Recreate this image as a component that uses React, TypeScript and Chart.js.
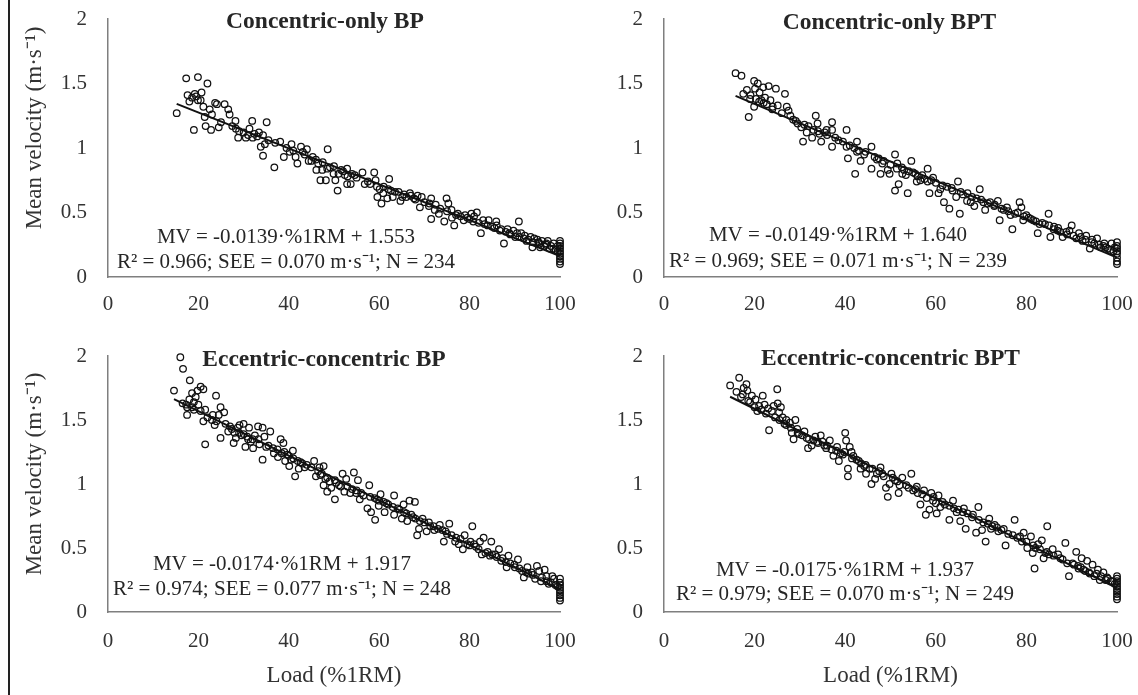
import React, { useEffect, useRef } from 'react';
import { Chart, registerables } from 'chart.js';

Chart.register(...registerables);

// ---------- data ----------
const panelTitles = ['Concentric-only BP', 'Concentric-only BPT', 'Eccentric-concentric BP', 'Eccentric-concentric BPT'];
const slopes = [-0.0139, -0.0149, -0.0174, -0.0175];
const intercepts = [1.553, 1.64, 1.917, 1.937];
const fitStart = [15.2, 15.8, 14.6, 14.6];
const fitEnd = [100, 100, 100, 100];
const eqLine1 = [
  'MV = -0.0139·%1RM + 1.553',
  'MV = -0.0149·%1RM + 1.640',
  'MV = -0.0174·%1RM + 1.917',
  'MV = -0.0175·%1RM + 1.937',
];
const eqLine2 = [
  'R² = 0.966; SEE = 0.070 m·s⁻¹; N = 234',
  'R² = 0.969; SEE = 0.071 m·s⁻¹; N = 239',
  'R² = 0.974; SEE = 0.077 m·s⁻¹; N = 248',
  'R² = 0.979; SEE = 0.070 m·s⁻¹; N = 249',
];
const xTicks = [0, 20, 40, 60, 80, 100];
const yTicks = [0, 0.5, 1, 1.5, 2];
const xAxisTitle = 'Load (%1RM)';
const yAxisTitle = 'Mean velocity (m·s⁻¹)';

const concentricBP: [number, number][] = [
  [15.2,1.27],[17.3,1.54],[19.9,1.55],[17.6,1.41],[18.6,1.39],[19.2,1.42],[19.9,1.37],[19.0,1.14],[20.7,1.43],[22.0,1.50],
  [21.1,1.32],[21.4,1.24],[21.6,1.17],[22.8,1.14],[23.7,1.35],[24.5,1.16],[24.1,1.34],[25.8,1.34],[26.6,1.30],[26.9,1.26],
  [28.2,1.21],[28.3,1.15],[28.8,1.08],[30.0,1.12],[30.5,1.08],[31.3,1.15],[31.9,1.21],[32.4,1.11],[33.4,1.12],[34.3,1.10],
  [33.8,1.01],[34.3,0.94],[35.1,1.20],[34.7,1.03],[36.8,0.85],[38.1,1.05],[38.9,0.93],[40.6,1.03],[40.2,0.97],[41.5,0.93],
  [41.9,0.88],[42.7,1.01],[43.1,0.97],[44.0,0.99],[44.4,0.90],[45.3,0.93],[46.1,0.83],[46.5,0.88],[47.0,0.75],[47.4,0.83],
  [48.2,0.75],[48.6,0.99],[49.1,0.85],[49.9,0.80],[50.3,0.75],[50.8,0.67],[51.6,0.83],[52.4,0.79],[52.9,0.84],[52.9,0.72],
  [53.7,0.72],[54.6,0.79],[56.3,0.81],[56.8,0.72],[58.9,0.81],[59.2,0.75],[59.6,0.62],[60.1,0.68],[60.5,0.57],[60.9,0.65],
  [61.8,0.61],[62.2,0.76],[62.6,0.67],[63.0,0.62],[64.3,0.66],[64.7,0.59],[65.1,0.62],[66.8,0.65],[67.7,0.61],[68.5,0.63],
  [69.0,0.54],[69.4,0.62],[71.1,0.57],[71.5,0.61],[71.5,0.45],[72.3,0.52],[73.2,0.49],[74.4,0.43],[74.9,0.61],[75.3,0.57],
  [76.1,0.46],[76.6,0.40],[77.4,0.49],[78.7,0.44],[79.5,0.46],[80.4,0.49],[80.8,0.43],[81.6,0.50],[82.5,0.34],[83.3,0.41],
  [84.2,0.44],[85.0,0.39],[85.9,0.43],[86.7,0.36],[87.6,0.26],[88.4,0.37],[88.8,0.34],[89.7,0.36],[90.1,0.31],[90.9,0.43],
  [91.4,0.34],[92.2,0.32],[92.6,0.28],[93.5,0.31],[93.9,0.23],[94.3,0.30],[95.2,0.27],[95.6,0.23],[96.0,0.28],[96.9,0.25],
  [97.3,0.28],[97.7,0.22],[98.6,0.26],[99.0,0.21],
  [100,0.28],[100,0.26],[100,0.24],[100,0.22],[100,0.20],[100,0.18],[100,0.16],[100,0.14],[100,0.12],[100,0.10],
  [18.0,1.36],[19.5,1.40],[20.5,1.37],[22.5,1.30],[23.0,1.26],[25.0,1.20],[27.5,1.17],[29.0,1.13],[31.0,1.10],[32.0,1.08],
  [33.0,1.09],[35.5,1.06],[37.0,1.04],[39.5,1.00],[41.0,0.98],[43.5,0.95],[45.0,0.90],[46.0,0.91],[47.5,0.89],[48.5,0.84],
  [50.0,0.86],[51.0,0.80],[52.0,0.82],[53.0,0.78],[54.0,0.80],[55.0,0.77],[57.5,0.74],[58.0,0.72],[59.5,0.70],[61.0,0.70],
  [62.0,0.68],[63.5,0.66],[65.5,0.64],[66.0,0.62],[67.0,0.63],[68.0,0.60],[70.0,0.58],[71.0,0.55],[72.5,0.56],[73.5,0.53],
  [75.0,0.51],[76.0,0.52],[77.0,0.48],[78.0,0.47],[79.0,0.48],[80.0,0.45],[81.0,0.47],[82.0,0.42],[83.0,0.44],[84.0,0.40],
  [85.5,0.38],[86.0,0.40],[87.0,0.37],[88.0,0.35],[89.0,0.33],[90.5,0.34],[91.0,0.31],[92.0,0.30],[93.0,0.29],[94.0,0.27],
  [95.0,0.29],[95.5,0.26],[96.5,0.24],[97.0,0.26],[98.0,0.24],[98.5,0.22],[99.5,0.20],[99.5,0.24],
];

const concentricBPT: [number, number][] = [
  [15.8,1.58],[17.1,1.56],[18.3,1.45],[18.7,1.24],[19.1,1.41],[19.9,1.52],[20.1,1.46],[20.3,1.38],[20.7,1.50],[21.1,1.43],
  [19.9,1.32],[21.5,1.37],[21.9,1.47],[22.3,1.39],[22.7,1.34],[23.1,1.48],[23.5,1.37],[23.9,1.30],[24.7,1.46],[25.1,1.33],
  [26.7,1.42],[27.1,1.32],[27.5,1.29],[27.9,1.25],[29.1,1.21],[30.3,1.16],[30.7,1.05],[31.5,1.12],[31.9,1.17],[32.7,1.08],
  [33.5,1.25],[33.9,1.19],[34.3,1.11],[34.7,1.05],[35.5,1.12],[35.9,1.14],[37.1,1.20],[37.1,1.01],[37.1,1.14],[37.8,1.08],
  [40.3,1.14],[40.3,1.01],[40.6,0.92],[42.2,0.80],[42.6,1.05],[42.6,0.97],[43.4,0.90],[44.2,0.95],[45.8,1.01],[45.8,0.84],
  [47.4,0.92],[47.8,0.80],[48.2,0.88],[49.4,0.83],[49.8,0.80],[51.0,0.95],[51.0,0.67],[51.4,0.84],[51.8,0.72],[52.6,0.80],
  [53.4,0.79],[53.8,0.65],[54.6,0.90],[55.0,0.81],[55.8,0.74],[56.6,0.75],[58.2,0.84],[58.2,0.74],[58.6,0.65],[59.4,0.77],
  [60.6,0.65],[61.0,0.68],[61.8,0.58],[63.0,0.53],[63.7,0.67],[64.5,0.62],[64.9,0.74],[65.3,0.49],[66.9,0.59],[67.7,0.58],
  [68.5,0.55],[69.7,0.68],[70.5,0.58],[70.9,0.52],[72.9,0.55],[73.7,0.59],[74.1,0.44],[75.7,0.54],[76.5,0.48],[76.9,0.37],
  [78.1,0.50],[78.5,0.58],[78.9,0.54],[79.3,0.44],[80.5,0.46],[82.1,0.43],[82.5,0.34],[82.9,0.41],[84.1,0.41],[84.9,0.49],
  [85.3,0.31],[86.1,0.39],[86.9,0.36],[88.0,0.31],[88.8,0.35],[90.0,0.40],[90.4,0.32],[91.6,0.34],[92.4,0.28],[93.2,0.32],
  [94.0,0.22],[94.4,0.27],[95.6,0.30],[96.4,0.23],[97.2,0.26],[98.0,0.22],[98.8,0.26],
  [100,0.27],[100,0.24],[100,0.22],[100,0.20],[100,0.18],[100,0.15],[100,0.12],[100,0.10],
  [17.5,1.42],[19.0,1.38],[21.0,1.36],[22.0,1.35],[24.0,1.32],[26.0,1.27],[28.5,1.22],[29.5,1.19],[31.0,1.18],[33.0,1.14],
  [34.0,1.13],[36.0,1.10],[38.5,1.06],[39.5,1.05],[41.0,1.02],[42.0,1.00],[43.0,0.98],[44.5,0.97],[46.5,0.93],[47.0,0.91],
  [48.5,0.90],[50.0,0.87],[51.5,0.88],[52.5,0.85],[53.0,0.83],[54.0,0.82],[55.5,0.80],[56.0,0.78],[57.0,0.79],[57.5,0.76],
  [59.0,0.75],[60.0,0.73],[61.5,0.71],[62.5,0.70],[63.5,0.69],[65.5,0.66],[66.0,0.64],[67.0,0.65],[68.0,0.62],[69.0,0.61],
  [70.0,0.60],[71.5,0.57],[72.0,0.58],[73.0,0.56],[74.5,0.53],[75.0,0.52],[76.0,0.51],[77.5,0.49],[79.5,0.47],[80.0,0.48],
  [81.0,0.45],[81.5,0.44],[83.5,0.42],[85.0,0.40],[86.0,0.37],[87.0,0.38],[87.5,0.35],[89.0,0.33],[89.5,0.36],[91.0,0.30],
  [92.0,0.31],[93.0,0.29],[94.5,0.29],[95.0,0.26],[96.0,0.25],[97.0,0.24],[97.5,0.23],[98.5,0.21],[99.2,0.20],[99.5,0.23],
];

const eccentricBP: [number, number][] = [
  [14.6,1.73],[16.0,1.99],[16.6,1.90],[17.3,1.62],[17.5,1.54],[18.1,1.81],[18.6,1.71],[18.6,1.60],[19.0,1.64],[19.4,1.68],
  [19.8,1.73],[20.5,1.76],[21.1,1.74],[21.1,1.49],[21.5,1.58],[21.5,1.31],[23.2,1.54],[23.6,1.46],[23.9,1.69],[24.5,1.54],
  [24.9,1.36],[24.9,1.60],[25.7,1.56],[26.6,1.41],[27.4,1.43],[27.8,1.32],[28.3,1.36],[28.7,1.44],[29.1,1.46],[29.5,1.38],
  [30.0,1.47],[30.4,1.29],[30.8,1.37],[31.2,1.44],[31.6,1.33],[32.1,1.28],[32.5,1.38],[33.2,1.45],[33.3,1.35],[34.2,1.44],
  [34.2,1.19],[34.6,1.37],[35.0,1.29],[35.9,1.41],[36.7,1.24],[37.6,1.21],[38.2,1.35],[38.8,1.32],[38.4,1.24],[39.2,1.18],
  [39.7,1.23],[40.1,1.14],[40.5,1.19],[40.9,1.26],[41.4,1.06],[42.2,1.12],[42.6,1.17],[43.5,1.13],[45.6,1.18],[46.0,1.06],
  [46.8,1.13],[47.3,1.08],[47.7,1.14],[47.7,0.99],[48.1,1.04],[48.5,0.94],[49.4,0.97],[50.2,0.88],[50.2,1.03],[51.1,0.99],
  [51.9,1.08],[52.3,0.94],[52.7,1.04],[53.6,0.93],[54.4,1.09],[54.9,0.93],[55.3,1.03],[55.7,0.88],[57.4,0.81],[57.8,0.99],
  [58.2,0.78],[59.1,0.72],[59.5,0.88],[59.9,0.83],[60.3,0.92],[61.2,0.78],[61.6,0.85],[63.3,0.91],[63.3,0.76],[64.1,0.81],
  [65.0,0.73],[65.4,0.84],[66.2,0.71],[66.7,0.87],[67.1,0.76],[67.9,0.86],[68.4,0.60],[68.8,0.65],[69.6,0.73],[70.5,0.63],
  [71.3,0.67],[72.2,0.64],[73.4,0.68],[74.3,0.55],[74.7,0.63],[75.5,0.69],[76.8,0.55],[77.6,0.53],[78.5,0.49],[78.9,0.60],
  [80.2,0.55],[80.6,0.67],[81.4,0.51],[82.3,0.55],[82.7,0.45],[83.1,0.58],[84.0,0.47],[84.8,0.55],[85.7,0.45],[86.5,0.49],
  [87.3,0.42],[88.2,0.35],[88.6,0.44],[89.9,0.37],[90.7,0.41],[91.6,0.32],[92.0,0.27],[92.8,0.35],[93.7,0.31],[94.5,0.26],
  [94.9,0.36],[95.4,0.32],[95.8,0.24],[96.6,0.33],[97.0,0.28],[97.5,0.22],[98.3,0.28],[98.7,0.26],
  [100,0.26],[100,0.23],[100,0.21],[100,0.19],[100,0.17],[100,0.15],[100,0.13],[100,0.11],[100,0.09],
  [16.5,1.63],[17.5,1.60],[18.0,1.66],[19.0,1.58],[20.0,1.62],[20.5,1.57],[22.0,1.52],[23.0,1.50],[24.0,1.49],[26.0,1.47],
  [27.0,1.45],[28.0,1.40],[29.0,1.40],[30.0,1.39],[31.0,1.35],[32.0,1.35],[33.5,1.31],[35.5,1.30],[36.5,1.28],[37.5,1.27],
  [39.0,1.25],[40.0,1.22],[41.0,1.20],[42.0,1.18],[43.0,1.16],[44.0,1.15],[45.0,1.13],[46.5,1.10],[47.0,1.07],[48.5,1.05],
  [49.0,1.02],[50.5,1.01],[51.5,0.98],[53.0,0.98],[54.0,0.96],[55.0,0.95],[56.0,0.93],[56.5,0.91],[58.0,0.90],[59.0,0.89],
  [60.0,0.87],[61.0,0.86],[62.0,0.84],[63.0,0.82],[64.5,0.80],[65.5,0.78],[66.0,0.77],[67.5,0.74],[68.0,0.73],[69.0,0.71],
  [70.0,0.70],[71.0,0.70],[72.0,0.67],[73.0,0.65],[74.0,0.64],[75.0,0.61],[76.0,0.60],[77.0,0.58],[78.0,0.57],[79.5,0.53],
  [80.0,0.52],[81.0,0.53],[82.0,0.49],[83.5,0.46],[84.5,0.44],[85.0,0.45],[86.0,0.43],[87.0,0.40],[88.0,0.39],[89.0,0.38],
  [90.0,0.35],[91.0,0.34],[92.5,0.31],[93.0,0.30],[94.0,0.29],[96.0,0.27],[97.0,0.24],[98.0,0.23],[99.0,0.21],[99.5,0.20],
];

const eccentricBPT: [number, number][] = [
  [14.6,1.77],[16.6,1.83],[17.4,1.70],[17.6,1.75],[18.2,1.78],[18.4,1.73],[18.6,1.65],[19.4,1.69],[20.2,1.66],[20.6,1.57],
  [21.0,1.61],[21.8,1.69],[22.2,1.62],[23.0,1.59],[23.2,1.42],[23.8,1.57],[24.2,1.61],[25.0,1.74],[25.1,1.63],[25.4,1.56],
  [25.8,1.60],[26.2,1.52],[26.6,1.47],[27.0,1.50],[27.8,1.48],[28.2,1.40],[28.6,1.35],[29.0,1.50],[29.4,1.43],[29.8,1.39],
  [31.0,1.41],[31.8,1.28],[32.6,1.30],[33.4,1.37],[33.8,1.33],[34.6,1.38],[35.4,1.30],[35.8,1.28],[36.6,1.34],[37.4,1.22],
  [38.2,1.29],[38.6,1.18],[39.0,1.24],[39.8,1.25],[40.0,1.40],[40.2,1.34],[40.6,1.12],[40.6,1.06],[41.0,1.29],[41.4,1.25],
  [41.8,1.22],[43.0,1.18],[43.4,1.12],[44.2,1.14],[44.6,1.08],[45.4,1.12],[45.8,1.00],[46.6,1.04],[47.0,1.08],[47.8,1.13],
  [48.2,1.08],[49.0,0.97],[49.4,0.90],[49.8,1.00],[50.2,1.08],[51.0,1.03],[51.8,0.93],[52.6,1.05],[54.6,1.08],[55.0,0.95],
  [55.8,0.98],[56.6,0.84],[57.4,0.95],[57.8,0.76],[58.6,0.80],[59.0,0.93],[59.4,0.87],[60.2,0.77],[60.6,0.91],[61.0,0.82],
  [63.0,0.72],[63.8,0.87],[64.6,0.78],[65.4,0.71],[66.2,0.81],[66.6,0.65],[68.2,0.76],[68.9,0.62],[69.4,0.82],[70.2,0.64],
  [71.0,0.55],[71.8,0.73],[72.2,0.65],[73.0,0.68],[73.8,0.63],[75.0,0.65],[75.4,0.52],[77.4,0.72],[78.6,0.59],[79.4,0.62],
  [80.2,0.50],[81.0,0.59],[81.4,0.46],[81.8,0.34],[82.6,0.53],[83.4,0.56],[83.8,0.42],[84.2,0.46],[84.6,0.67],[85.8,0.49],
  [87.0,0.45],[88.6,0.54],[89.4,0.28],[90.2,0.38],[91.0,0.47],[91.4,0.36],[92.2,0.42],[92.6,0.33],[93.4,0.40],[93.8,0.31],
  [94.6,0.37],[95.0,0.28],[95.8,0.33],[96.2,0.25],[97.0,0.31],[97.8,0.27],[98.6,0.24],
  [100,0.28],[100,0.26],[100,0.24],[100,0.22],[100,0.20],[100,0.18],[100,0.16],[100,0.14],[100,0.12],[100,0.10],
  [16.0,1.72],[17.0,1.68],[19.0,1.64],[20.0,1.60],[21.5,1.58],[22.5,1.55],[24.5,1.52],[25.5,1.50],[27.0,1.46],[28.0,1.44],
  [29.5,1.40],[30.5,1.38],[31.5,1.36],[32.0,1.35],[33.0,1.34],[34.0,1.32],[35.0,1.33],[36.0,1.30],[37.0,1.27],[38.0,1.26],
  [39.5,1.23],[41.5,1.20],[42.5,1.19],[43.5,1.16],[44.5,1.15],[46.0,1.12],[47.5,1.10],[48.5,1.06],[50.5,1.05],[51.5,1.02],
  [52.0,0.99],[53.5,0.99],[54.0,0.97],[55.5,0.96],[56.0,0.93],[57.0,0.92],[58.0,0.89],[59.5,0.90],[60.0,0.85],[61.5,0.86],
  [62.0,0.84],[63.0,0.83],[64.0,0.81],[65.0,0.80],[66.0,0.78],[67.0,0.77],[68.0,0.74],[69.5,0.72],[70.5,0.70],[71.5,0.69],
  [72.5,0.67],[73.5,0.66],[74.5,0.64],[76.0,0.61],[77.0,0.60],[78.0,0.58],[79.0,0.55],[80.0,0.55],[81.5,0.52],[82.0,0.50],
  [83.0,0.49],[84.5,0.47],[85.0,0.45],[86.0,0.44],[87.5,0.42],[88.0,0.41],[89.0,0.38],[90.5,0.37],[91.5,0.34],[92.0,0.35],
  [93.0,0.32],[94.0,0.30],[95.5,0.30],[96.5,0.28],[97.5,0.25],[98.0,0.26],[99.0,0.24],[99.5,0.22],
];

const panelData = [concentricBP, concentricBPT, eccentricBP, eccentricBPT];

// ---------- layout (styles) ----------
type Layout = {
  left: number; top: number; width: number; height: number;
  padTop: number; padRight: number; yWidth: number; xHeight: number;
  showYTitle: boolean; showXTitle: boolean; xTickPad: number; yTitleDy: number;
  titleDx: number; titleDy: number; eqX: number; eqY1: number; eqY2: number;
};

const layouts: Layout[] = [
  { left: 0, top: 0, width: 590, height: 330, padTop: 19, padRight: 30, yWidth: 108, xHeight: 53, showYTitle: true, showXTitle: false, xTickPad: 15, yTitleDy: -20, titleDx: -9, titleDy: 3, eqX: 178, eqY1: -40, eqY2: -15 },
  { left: 590, top: 0, width: 548, height: 330, padTop: 19, padRight: 21, yWidth: 74, xHeight: 53, showYTitle: false, showXTitle: false, xTickPad: 15, yTitleDy: 0, titleDx: -1, titleDy: 4, eqX: 174, eqY1: -42, eqY2: -16 },
  { left: 0, top: 330, width: 590, height: 365, padTop: 26, padRight: 30, yWidth: 108, xHeight: 83, showYTitle: true, showXTitle: true, xTickPad: 17, yTitleDy: -10, titleDx: -10, titleDy: 4, eqX: 174, eqY1: -48, eqY2: -23 },
  { left: 590, top: 330, width: 548, height: 365, padTop: 26, padRight: 21, yWidth: 74, xHeight: 83, showYTitle: false, showXTitle: true, xTickPad: 17, yTitleDy: 0, titleDx: 0, titleDy: 3, eqX: 181, eqY1: -42, eqY2: -18 },
];

const SERIF = '"Liberation Serif", "Times New Roman", serif';
const TEXT = '#262626';

const annotatePlugin = {
  id: 'annotate',
  afterDraw(chart: any, _args: any, opts: any) {
    const { ctx, chartArea } = chart;
    ctx.save();
    ctx.fillStyle = TEXT;
    ctx.textAlign = 'center';
    ctx.textBaseline = 'middle';
    ctx.font = `bold 23.5px ${SERIF}`;
    ctx.fillText(opts.title, (chartArea.left + chartArea.right) / 2 + opts.titleDx, chartArea.top + opts.titleDy);
    ctx.font = `21px ${SERIF}`;
    ctx.fillText(opts.eq1, chartArea.left + opts.eqX, chartArea.bottom + opts.eqY1);
    ctx.fillText(opts.eq2, chartArea.left + opts.eqX, chartArea.bottom + opts.eqY2);
    if (opts.yTitle) {
      ctx.fillStyle = '#333';
      ctx.font = `23px ${SERIF}`;
      ctx.translate(35, (chartArea.top + chartArea.bottom) / 2 + opts.yTitleDy);
      ctx.rotate(-Math.PI / 2);
      ctx.fillText(opts.yTitle, 0, 0);
    }
    ctx.restore();
  },
};

function Panel({ index }: { index: number }) {
  const ref = useRef<HTMLCanvasElement | null>(null);
  const L = layouts[index];

  useEffect(() => {
    if (!ref.current) return;
    const pts = panelData[index].map(([x, y]) => ({ x, y }));
    const line = [fitStart[index], fitEnd[index]].map((x) => ({ x, y: slopes[index] * x + intercepts[index] }));
    const chart = new Chart(ref.current, {
      type: 'scatter',
      data: {
        datasets: [
          {
            type: 'line',
            data: line,
            borderColor: '#111',
            borderWidth: 2,
            pointRadius: 0,
            fill: false,
            order: 0,
          } as any,
          {
            data: pts,
            pointRadius: 3.3,
            pointBorderWidth: 1.25,
            pointBorderColor: '#111',
            pointBackgroundColor: 'rgba(255,255,255,0)',
            clip: false,
            order: 1,
          } as any,
        ],
      },
      options: {
        animation: false,
        responsive: false,
        devicePixelRatio: 1,
        layout: { padding: { top: L.padTop, right: L.padRight, left: 0, bottom: 0 } },
        plugins: {
          legend: { display: false },
          tooltip: { enabled: false },
          annotate: {
            title: panelTitles[index],
            eq1: eqLine1[index],
            eq2: eqLine2[index],
            yTitle: L.showYTitle ? yAxisTitle : '',
            yTitleDy: L.yTitleDy,
            titleDx: L.titleDx,
            titleDy: L.titleDy,
            eqX: L.eqX,
            eqY1: L.eqY1,
            eqY2: L.eqY2,
          },
        } as any,
        scales: {
          x: {
            type: 'linear',
            min: xTicks[0],
            max: xTicks[xTicks.length - 1],
            afterBuildTicks: (s: any) => { s.ticks = xTicks.map((v) => ({ value: v })); },
            afterFit: (s: any) => { s.height = L.xHeight; },
            grid: { display: false, drawTicks: true, tickLength: L.xTickPad },
            border: { display: true, color: '#7f7f7f', width: 1.5 },
            ticks: { padding: 0, color: '#333', font: { family: SERIF, size: 21 }, maxRotation: 0, callback: (v: any) => String(v) },
            title: {
              display: L.showXTitle,
              text: xAxisTitle,
              color: '#333',
              font: { family: SERIF, size: 23 },
              padding: { top: 0, bottom: 5 },
            },
          },
          y: {
            type: 'linear',
            min: yTicks[0],
            max: yTicks[yTicks.length - 1],
            afterBuildTicks: (s: any) => { s.ticks = yTicks.map((v) => ({ value: v })); },
            afterFit: (s: any) => { s.width = L.yWidth; },
            grid: { display: false, drawTicks: true, tickLength: 21 },
            border: { display: true, color: '#7f7f7f', width: 1.5 },
            ticks: { padding: 0, color: '#333', font: { family: SERIF, size: 21 }, callback: (v: any) => String(v) },
          },
        },
      },
      plugins: [annotatePlugin],
    });
    return () => chart.destroy();
  }, [index]);

  return (
    <canvas
      ref={ref}
      width={L.width}
      height={L.height}
      style={{ position: 'absolute', left: L.left, top: L.top, width: L.width, height: L.height }}
    />
  );
}

export default function App() {
  return (
    <div style={{ position: 'absolute', left: 0, top: 0, width: 1138, height: 695, background: '#fff', overflow: 'hidden' }}>
      <div style={{ position: 'absolute', left: 8, top: 0, width: 2, height: 695, background: '#222' }} />
      {[0, 1, 2, 3].map((i) => (
        <Panel key={i} index={i} />
      ))}
    </div>
  );
}
